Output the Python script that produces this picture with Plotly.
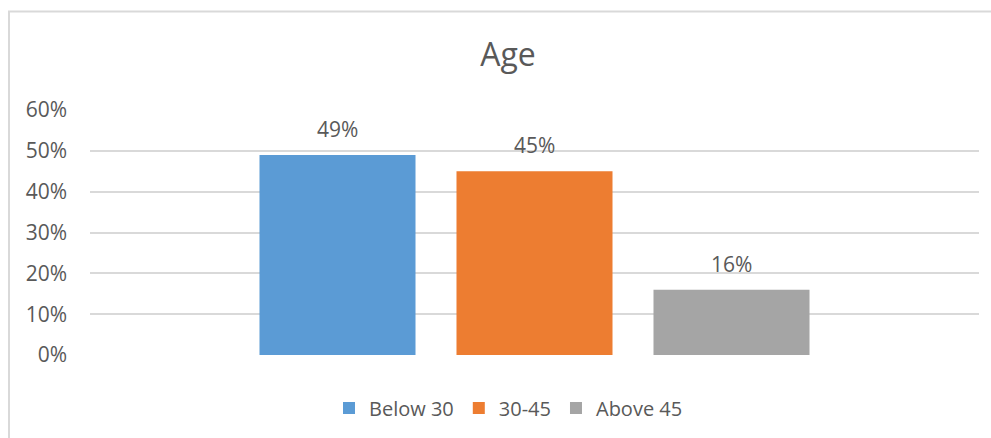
import plotly.graph_objects as go

# Age distribution
groups = ["Below 30", "30-45", "Above 45"]
shares = [0.49, 0.45, 0.16]
colors = ["#5B9BD5", "#ED7D31", "#A5A5A5"]
y_ticks = [0, 0.1, 0.2, 0.3, 0.4, 0.5, 0.6]
y_tick_labels = ["0%", "10%", "20%", "30%", "40%", "50%", "60%"]

W, H = 991, 438
L, R, T, B = 90, 12, 110, 82
pw, ph = W - L - R, H - T - B

FONT = "Open Sans"
TXT = "#595959"

fig = go.Figure()
for i, (g, v, c) in enumerate(zip(groups, shares, colors)):
    fig.add_trace(go.Bar(
        x=[i - 1], y=[v], name=g, width=0.792,
        marker=dict(color=c, line=dict(width=0)),
        hoverinfo="skip",
    ))
    fig.add_annotation(
        x=i - 1, y=v, text=f"{round(v * 100)}%", showarrow=False,
        yanchor="middle", yshift=26,
        font=dict(family=FONT, size=21, color=TXT),
    )

# chart-area frame
def px_x(p):
    return (p - L) / pw

def px_y(p):
    return (H - B - p) / ph

fig.add_shape(
    type="rect", xref="paper", yref="paper",
    x0=px_x(9), x1=px_x(1000), y0=px_y(450), y1=px_y(11),
    line=dict(color="#D9D9D9", width=2), fillcolor="rgba(0,0,0,0)",
    layer="below",
)

span = pw / 197.0
fig.update_layout(
    width=W, height=H,
    margin=dict(l=L, r=R, t=T, b=B, pad=0),
    paper_bgcolor="white", plot_bgcolor="white",
    barmode="overlay",
    title=dict(text="Age", x=(508) / W, xanchor="center", y=1 - 55 / H,
               yanchor="middle", font=dict(family=FONT, size=32, color=TXT)),
    xaxis=dict(range=[-span / 2, span / 2], showticklabels=False,
               showgrid=False, zeroline=False, showline=False, fixedrange=True),
    yaxis=dict(range=[0, 0.6], tickvals=y_ticks, ticktext=y_tick_labels,
               showgrid=True, gridcolor="#D9D9D9", gridwidth=1.6,
               zeroline=False, showline=False, ticks="",
               ticklabelstandoff=22,
               tickfont=dict(family=FONT, size=21, color=TXT)),
    showlegend=True,
    legend=dict(orientation="h", x=px_x(329), xanchor="left",
                y=px_y(408), yanchor="middle",
                font=dict(family=FONT, size=20, color=TXT),
                itemclick=False, itemdoubleclick=False,
                bgcolor="rgba(0,0,0,0)", tracegroupgap=0),
)

fig.write_html("out.html")
